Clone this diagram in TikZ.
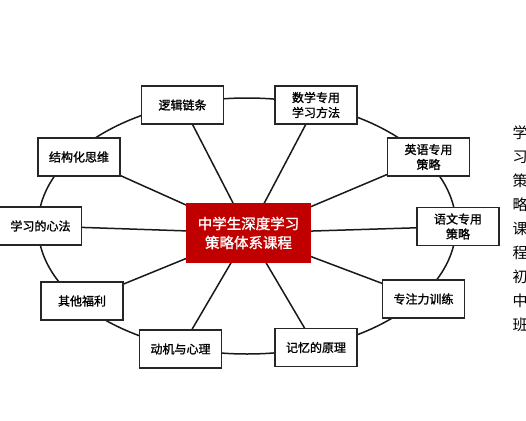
\documentclass[tikz,border=0pt]{standalone}
\usepackage{fontspec}
\setmainfont{Noto Sans CJK SC}
\newfontfamily\cjk[AutoFakeBold=1.4]{Noto Sans CJK SC}
\usetikzlibrary{backgrounds}
\definecolor{hubred}{HTML}{C00000}
\begin{document}
\begin{tikzpicture}[x=1pt,y=-1pt,
  leaf/.style={draw=black!85,line width=1.4pt,fill=white,minimum width=82pt,minimum height=38pt,inner sep=1pt,align=center,font=\cjk\bfseries\fontsize{12}{15}\selectfont},
  hub/.style={fill=hubred,text=white,minimum width=125pt,minimum height=60pt,inner sep=1pt,align=center,font=\cjk\bfseries\fontsize{14.5}{19}\selectfont},
  spoke/.style={line width=1.5pt,black!90},
  side/.style={inner sep=0pt,font=\cjk\fontsize{15}{15}\selectfont}]
\useasboundingbox (0,0) rectangle (526,420);
\clip (0,0) rectangle (526,420);
\coordinate (ctr) at (247,226);
\node[hub] (h) at (248.5,233) {中学生深度学习\\策略体系课程};
\node[leaf] (a) at (182.5,105) {逻辑链条};
\node[leaf] (b) at (316,105) {数学专用\\学习方法};
\node[leaf] (c) at (79,157) {结构化思维};
\node[leaf] (d) at (428.5,157) {英语专用\\策略};
\node[leaf] (e) at (40.5,226) {学习的心法};
\node[leaf] (f) at (458,226.5) {语文专用\\策略};
\node[leaf] (g) at (82,301) {其他福利};
\node[leaf] (i) at (180.5,349) {动机与心理};
\node[leaf] (j) at (316,347.5) {记忆的原理};
\node[leaf] (k) at (423.5,299) {专注力训练};
\foreach \c [count=\k from 0] in {学,习,策,略,课,程,初,中,班}{
  \node[side] (s\k) at (520,133+24*\k) {\c};
}
\begin{scope}[on background layer]
\fill[white] (0,0) rectangle (526,420);
\draw[spoke] (ctr) ellipse [x radius=209pt, y radius=128pt];
\foreach \n in {a,b,c,d,e,f,g,i,j,k}{
  \draw[spoke] (h.center) -- (\n.center);
}
\end{scope}
\end{tikzpicture}
\end{document}
